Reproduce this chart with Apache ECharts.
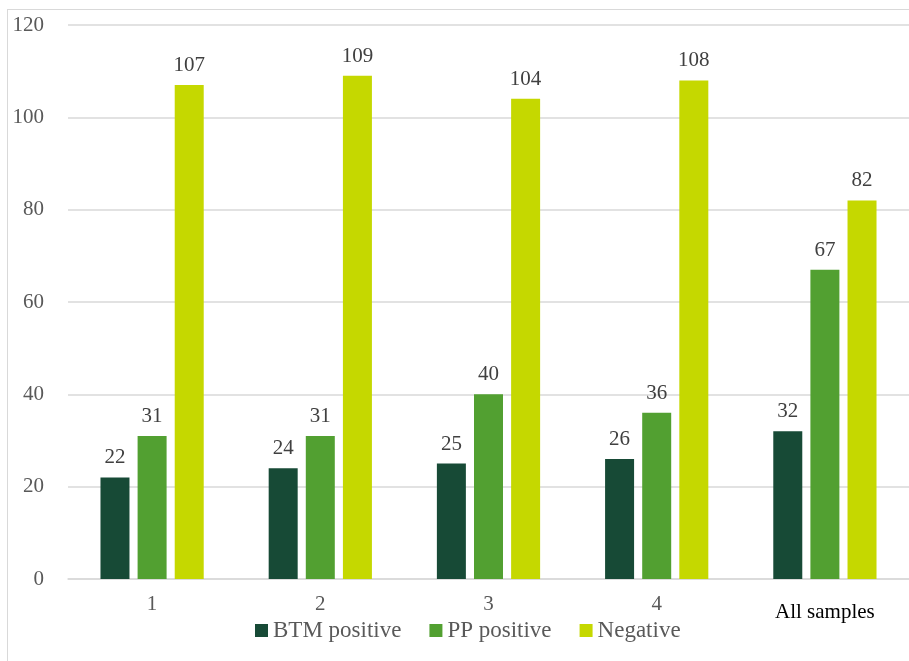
<!DOCTYPE html>
<html><head><meta charset="utf-8">
<script src="https://cdn.jsdelivr.net/npm/echarts@6/dist/echarts.min.js"></script>
<style>
html,body{margin:0;padding:0;background:#fff;}
#frame{position:absolute;left:7px;top:9px;width:1000px;height:700px;border:1px solid #d9d9d9;box-sizing:border-box;}
#c{position:absolute;left:0;top:0;width:909px;height:661px;}
</style></head>
<body>
<div id="frame"></div>
<div id="c"></div>
<script>
const categories = ['1', '2', '3', '4', 'All samples'];
const btmPositive = [22, 24, 25, 26, 32];
const ppPositive = [31, 31, 40, 36, 67];
const negative = [107, 109, 104, 108, 82];
const yTicks = {min: 0, max: 120, interval: 20};

const font = '"Liberation Serif", "Times New Roman", serif';
const colors = ['#174A36', '#52A031', '#C5D800'];
const chart = echarts.init(document.getElementById('c'));
function s(name, data, color) {
  return {
    name, type: 'bar', data, barWidth: 29, barGap: '28%',
    itemStyle: {color},
    label: {show: true, position: 'top', distance: 9, color: '#404040', fontFamily: font, fontSize: 21}
  };
}
chart.setOption({
  animation: false,
  textStyle: {fontFamily: font},
  grid: {left: 68, right: -4, top: 25, bottom: 82},
  legend: {
    bottom: 14, left: 250, itemWidth: 13, itemHeight: 13, itemGap: 28, icon: 'rect',
    textStyle: {fontFamily: font, fontSize: 23, color: '#595959'},
    data: ['BTM positive', 'PP positive', 'Negative']
  },
  xAxis: {
    type: 'category', data: categories,
    axisLine: {lineStyle: {color: '#d9d9d9', width: 1.5}},
    axisTick: {show: false},
    axisLabel: {
      interval: 0, hideOverlap: false,
      margin: 15, fontFamily: font, fontSize: 21, color: '#595959',
      formatter: v => v === 'All samples' ? '{b|' + v + '}' : v,
      rich: {b: {fontFamily: font, fontSize: 21, color: '#000', padding: [8, 0, 0, 0]}}
    }
  },
  yAxis: {
    type: 'value', min: yTicks.min, max: yTicks.max, interval: yTicks.interval,
    axisLine: {show: false}, axisTick: {show: false},
    axisLabel: {margin: 24, fontFamily: font, fontSize: 21, color: '#595959'},
    splitLine: {lineStyle: {color: '#d9d9d9', width: 1.5}}
  },
  series: [
    s('BTM positive', btmPositive, colors[0]),
    s('PP positive', ppPositive, colors[1]),
    s('Negative', negative, colors[2])
  ]
});
</script>
</body></html>
